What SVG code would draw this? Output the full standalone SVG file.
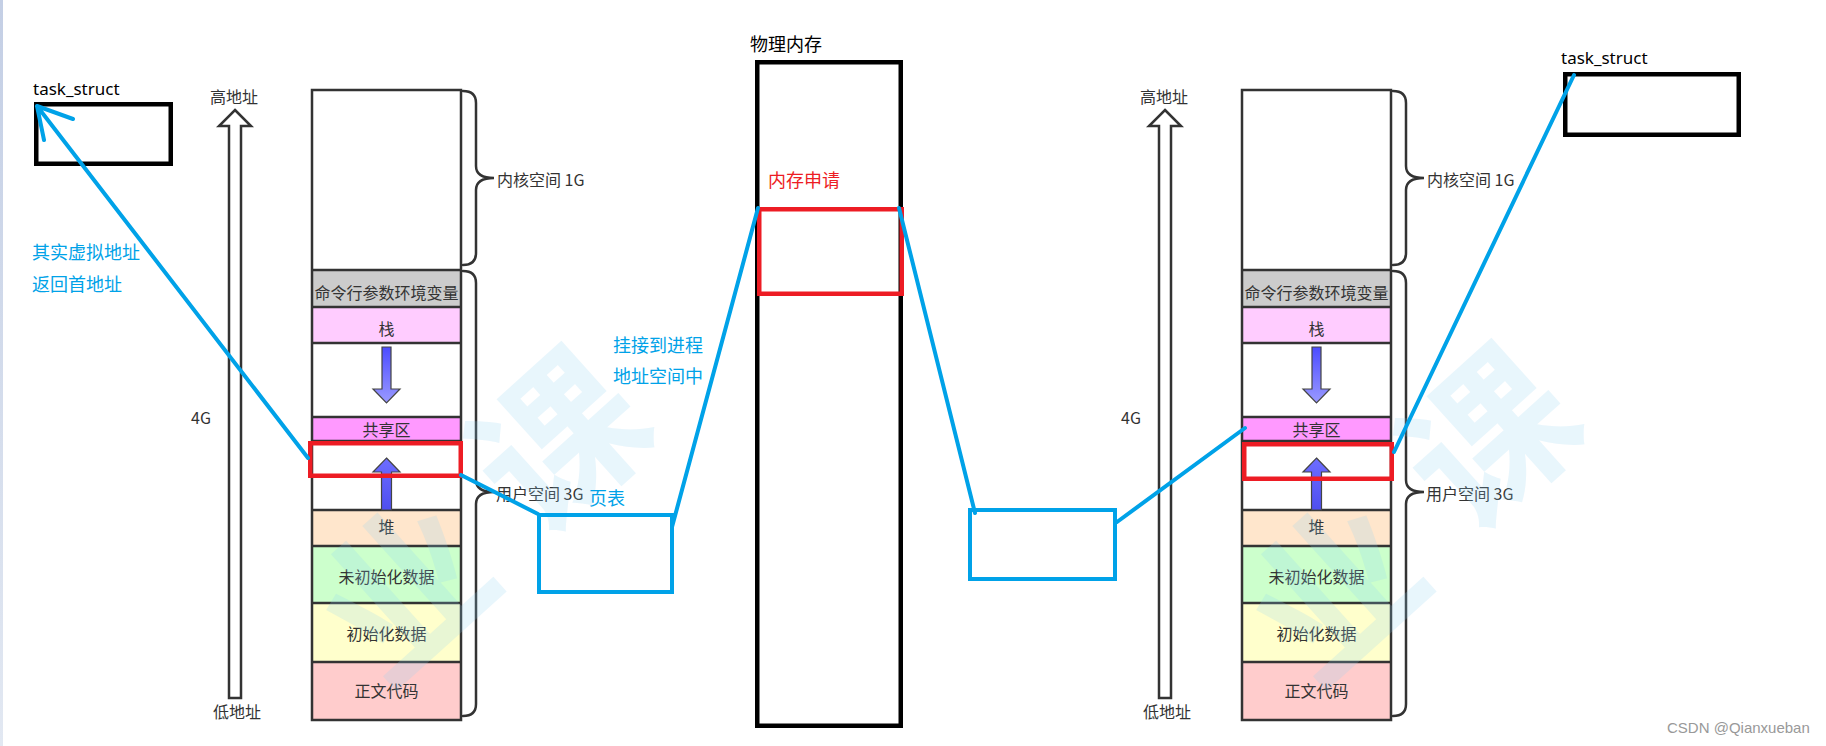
<svg xmlns="http://www.w3.org/2000/svg" width="1826" height="746" viewBox="0 0 1826 746">
<defs>
<style>
.lbl{font-family:"Noto Sans CJK SC","Noto Sans",sans-serif;font-size:16px;fill:#333}
.sec{font-family:"Noto Sans CJK SC",sans-serif;font-size:16px;fill:#333;text-anchor:middle}
.div{stroke:#333;stroke-width:2.5}
.brace{fill:none;stroke:#333;stroke-width:2.5;stroke-linecap:round}
.blue{fill:none;stroke:#00a2e8;stroke-width:4;stroke-linecap:round;stroke-linejoin:round}
.red{fill:none;stroke:#ed1c24;stroke-width:4.5}
.blk{fill:none;stroke:#000;stroke-width:4.5}
.bt{font-family:"Noto Sans CJK SC",sans-serif;font-size:18px;fill:#00a2e8}
.kt{font-family:"Noto Sans CJK SC",sans-serif;font-size:18px;fill:#000}
.ts{font-family:"Noto Sans","Noto Sans CJK SC",sans-serif;font-size:17px;fill:#000}
.wm{font-family:"Noto Sans CJK SC",sans-serif;font-weight:bold;font-size:165px;fill:#8fd3f4;opacity:0.2;text-anchor:middle}
</style>
<linearGradient id="bar" x1="0" y1="0" x2="0" y2="1"><stop offset="0" stop-color="#c4cfe5"/><stop offset="1" stop-color="#e2e8f2"/></linearGradient>
<linearGradient id="gDown" x1="0" y1="0" x2="0" y2="1"><stop offset="0" stop-color="#4c4cff"/><stop offset="1" stop-color="#9a9aff"/></linearGradient>
<linearGradient id="gUp" x1="0" y1="0" x2="0" y2="1"><stop offset="0" stop-color="#6d6dff"/><stop offset="1" stop-color="#4f4ff0"/></linearGradient>
</defs>
<rect width="1826" height="746" fill="#fff"/>
<rect x="0" y="0" width="3" height="746" fill="url(#bar)"/>

<g id="left-layout">
  <polygon points="235,110 251,126 241,126 241,698 229,698 229,126 219,126" fill="#fff" stroke="#333" stroke-width="2.5" stroke-linejoin="miter"/>
  <text class="lbl" x="234" y="103" text-anchor="middle">高地址</text>
  <text class="lbl" x="237" y="718" text-anchor="middle">低地址</text>
  <text class="lbl" x="191" y="424">4G</text>
  <rect x="312" y="90" width="149" height="630" fill="#fff"/>
  <rect x="312" y="270" width="149" height="37" fill="#cccccc"/>
  <rect x="312" y="307" width="149" height="36" fill="#ffccff"/>
  <rect x="312" y="417" width="149" height="24" fill="#ff99ff"/>
  <rect x="312" y="510" width="149" height="36" fill="#ffe6cc"/>
  <rect x="312" y="546" width="149" height="57" fill="#ccffcc"/>
  <rect x="312" y="603" width="149" height="59" fill="#ffffcc"/>
  <rect x="312" y="662" width="149" height="58" fill="#ffcccc"/>
  <g class="div">
    <line x1="312" y1="270" x2="461" y2="270"/><line x1="312" y1="307" x2="461" y2="307"/>
    <line x1="312" y1="343" x2="461" y2="343"/><line x1="312" y1="417" x2="461" y2="417"/>
    <line x1="312" y1="441" x2="461" y2="441"/><line x1="312" y1="510" x2="461" y2="510"/>
    <line x1="312" y1="546" x2="461" y2="546"/><line x1="312" y1="603" x2="461" y2="603"/>
    <line x1="312" y1="662" x2="461" y2="662"/>
  </g>
  <rect x="312" y="90" width="149" height="630" fill="none" stroke="#333" stroke-width="2.5"/>
  <text class="sec" x="386.5" y="298.5">命令行参数环境变量</text>
  <text class="sec" x="386.5" y="335">栈</text>
  <text class="sec" x="386.5" y="435.5">共享区</text>
  <text class="sec" x="386.5" y="532.5">堆</text>
  <text class="sec" x="386.5" y="582.5">未初始化数据</text>
  <text class="sec" x="386.5" y="640">初始化数据</text>
  <text class="sec" x="386.5" y="696.5">正文代码</text>
  <polygon points="382,347 391,347 391,389 400,389 386.5,403 373,389 382,389" fill="url(#gDown)" stroke="#444" stroke-width="1.2"/>
  <polygon points="386.5,458 400,472 391.5,472 391.5,510 381.5,510 381.5,472 373,472" fill="url(#gUp)" stroke="#444" stroke-width="1.2"/>
  <path class="brace" d="M463,91 C471,91 476,95 476,103 L476,166 C476,173 481,178 494,178 C481,178 476,183 476,190 L476,253 C476,261 471,265 463,265"/>
  <path class="brace" d="M463,271 C471,271 476,275 476,283 L476,480 C476,487 481,492 494,492 C481,492 476,497 476,504 L476,704 C476,712 471,716 463,716"/>
  <text class="lbl" x="497" y="186">内核空间 1G</text>
  <text class="lbl" x="496" y="500">用户空间 3G</text>
</g>

<g id="right-layout" transform="translate(930,0)">
  <polygon points="235,110 251,126 241,126 241,698 229,698 229,126 219,126" fill="#fff" stroke="#333" stroke-width="2.5" stroke-linejoin="miter"/>
  <text class="lbl" x="234" y="103" text-anchor="middle">高地址</text>
  <text class="lbl" x="237" y="718" text-anchor="middle">低地址</text>
  <text class="lbl" x="191" y="424">4G</text>
  <rect x="312" y="90" width="149" height="630" fill="#fff"/>
  <rect x="312" y="270" width="149" height="37" fill="#cccccc"/>
  <rect x="312" y="307" width="149" height="36" fill="#ffccff"/>
  <rect x="312" y="417" width="149" height="24" fill="#ff99ff"/>
  <rect x="312" y="510" width="149" height="36" fill="#ffe6cc"/>
  <rect x="312" y="546" width="149" height="57" fill="#ccffcc"/>
  <rect x="312" y="603" width="149" height="59" fill="#ffffcc"/>
  <rect x="312" y="662" width="149" height="58" fill="#ffcccc"/>
  <g class="div">
    <line x1="312" y1="270" x2="461" y2="270"/><line x1="312" y1="307" x2="461" y2="307"/>
    <line x1="312" y1="343" x2="461" y2="343"/><line x1="312" y1="417" x2="461" y2="417"/>
    <line x1="312" y1="441" x2="461" y2="441"/><line x1="312" y1="510" x2="461" y2="510"/>
    <line x1="312" y1="546" x2="461" y2="546"/><line x1="312" y1="603" x2="461" y2="603"/>
    <line x1="312" y1="662" x2="461" y2="662"/>
  </g>
  <rect x="312" y="90" width="149" height="630" fill="none" stroke="#333" stroke-width="2.5"/>
  <text class="sec" x="386.5" y="298.5">命令行参数环境变量</text>
  <text class="sec" x="386.5" y="335">栈</text>
  <text class="sec" x="386.5" y="435.5">共享区</text>
  <text class="sec" x="386.5" y="532.5">堆</text>
  <text class="sec" x="386.5" y="582.5">未初始化数据</text>
  <text class="sec" x="386.5" y="640">初始化数据</text>
  <text class="sec" x="386.5" y="696.5">正文代码</text>
  <polygon points="382,347 391,347 391,389 400,389 386.5,403 373,389 382,389" fill="url(#gDown)" stroke="#444" stroke-width="1.2"/>
  <polygon points="386.5,458 400,472 391.5,472 391.5,510 381.5,510 381.5,472 373,472" fill="url(#gUp)" stroke="#444" stroke-width="1.2"/>
  <path class="brace" d="M463,91 C471,91 476,95 476,103 L476,166 C476,173 481,178 494,178 C481,178 476,183 476,190 L476,253 C476,261 471,265 463,265"/>
  <path class="brace" d="M463,271 C471,271 476,275 476,283 L476,480 C476,487 481,492 494,492 C481,492 476,497 476,504 L476,704 C476,712 471,716 463,716"/>
  <text class="lbl" x="497" y="186">内核空间 1G</text>
  <text class="lbl" x="496" y="500">用户空间 3G</text>
</g>

<g id="watermark">
  <text class="wm" transform="translate(405,590) rotate(-42)" x="0" y="62">业</text>
  <text class="wm" transform="translate(558,440) rotate(-42)" x="0" y="62">课</text>
  <text class="wm" transform="translate(1335,590) rotate(-42)" x="0" y="62">业</text>
  <text class="wm" transform="translate(1488,437) rotate(-42)" x="0" y="62">课</text>
</g>

<g id="task-struct-left">
  <text class="ts" x="33" y="95">task_struct</text>
  <rect class="blk" x="36.25" y="104.25" width="134.5" height="59.5"/>
</g>
<g id="task-struct-right">
  <text class="ts" x="1561" y="64">task_struct</text>
  <rect class="blk" x="1565.25" y="74.25" width="173.5" height="60.5"/>
</g>
<g id="physical-memory">
  <text class="kt" x="750" y="51">物理内存</text>
  <rect class="blk" x="757.25" y="62.25" width="143.5" height="663.5"/>
</g>
<g id="memory-request">
  <text x="768" y="187" font-family="Noto Sans CJK SC, sans-serif" font-size="18" fill="#ed1c24">内存申请</text>
  <rect class="red" x="759.25" y="209.25" width="142.5" height="84.5"/>
</g>
<g id="vaddr-left">
  <rect class="red" x="310.25" y="443.25" width="150.5" height="32.5"/>
</g>
<g id="vaddr-right">
  <rect class="red" x="1244.25" y="444.25" width="147.5" height="34.5"/>
</g>
<g id="page-table-left">
  <text class="bt" x="589" y="505">页表</text>
  <rect x="539" y="515" width="133" height="77" fill="none" stroke="#00a2e8" stroke-width="4"/>
</g>
<g id="page-table-right">
  <rect x="970" y="510" width="145" height="69" fill="none" stroke="#00a2e8" stroke-width="4"/>
</g>

<g id="connectors">
  <path class="blue" d="M308,458 L37,106 M73,119 L37,106 L44,140"/>
  <path class="blue" d="M461,475 L538,514"/>
  <path class="blue" d="M672,527 L758,208"/>
  <path class="blue" d="M899,208 L975,513"/>
  <path class="blue" d="M1117,522 L1245,428"/>
  <path class="blue" d="M1394,452 L1574,75"/>
</g>

<g id="notes">
  <text class="bt" x="32" y="259">其实虚拟地址</text>
  <text class="bt" x="32" y="291">返回首地址</text>
  <text class="bt" x="613" y="352">挂接到进程</text>
  <text class="bt" x="613" y="383">地址空间中</text>
  <text x="1667" y="733" font-family="Liberation Sans, sans-serif" font-size="15" fill="#999">CSDN @Qianxueban</text>
</g>
</svg>
